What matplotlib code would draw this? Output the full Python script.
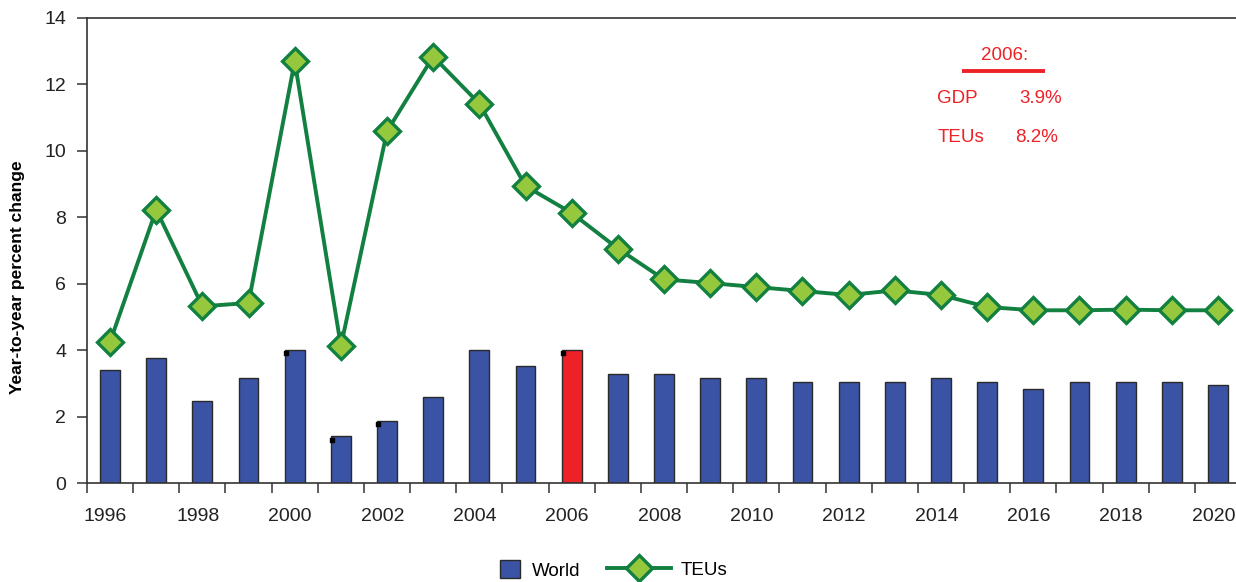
import matplotlib.pyplot as plt
import numpy as np

plt.rcParams['font.family'] = ['Liberation Sans', 'DejaVu Sans']

years = list(range(1996, 2021))
# world GDP growth, % per year
world = [3.40, 3.75, 2.47, 3.17, 4.00, 1.41, 1.87, 2.59, 4.00, 3.53, 4.00,
         3.28, 3.28, 3.17, 3.17, 3.05, 3.05, 3.05, 3.17, 3.05, 2.82, 3.05,
         3.05, 3.05, 2.94]
# container traffic growth (TEUs), % per year
teus = [4.25, 8.23, 5.32, 5.42, 12.70, 4.12, 10.59, 12.84, 11.42, 8.94, 8.13,
        7.06, 6.13, 6.02, 5.90, 5.78, 5.66, 5.80, 5.66, 5.30, 5.20, 5.20,
        5.22, 5.20, 5.20]
# small black markers sitting on a few bars
dot_years = [2000, 2001, 2002, 2006]
dot_vals = [3.9, 1.3, 1.78, 3.9]

highlight = 2006
blue = '#3A53A4'
red = '#EC2227'
dkgreen = '#128040'
ltgreen = '#95C83D'

fig = plt.figure(figsize=(12.36, 5.82), dpi=100)
ax = fig.add_axes([87 / 1236, 1 - 483 / 582, (1241 - 87) / 1236, (483 - 18) / 582])

x = np.arange(len(years))
colors = [red if y == highlight else blue for y in years]
bars = ax.bar(x, world, width=0.43, color=colors, edgecolor='#2a2a2a', linewidth=1.0,
              zorder=2, label='World')
line, = ax.plot(x, teus, color=dkgreen, lw=2.8, marker='D', markersize=13,
                markerfacecolor=ltgreen, markeredgecolor=dkgreen, markeredgewidth=2.4,
                zorder=3, label='TEUs')
dx = [years.index(y) - 0.19 for y in dot_years]
ax.scatter(dx, dot_vals, s=6, marker='s', color='black', zorder=4)

ax.set_xlim(-0.5, len(years) - 0.5)
ax.set_ylim(0, 14)
ax.set_yticks(range(0, 15, 2))
ax.set_xticks(np.arange(-0.5, len(years), 1))
ax.set_xticklabels([])
# year labels every other year, under the bars
for i, y in enumerate(years):
    if y % 2 == 0:
        ax.text(i - 0.1, -1.02, str(y), ha='center', va='center', fontsize=14,
                color='#222222')
ax.tick_params(axis='both', direction='out', length=7, width=1.1, colors='#333333',
               labelsize=14, labelcolor='#222222')
ax.tick_params(axis='y', pad=8)
for s in ['left', 'bottom', 'top']:
    ax.spines[s].set_color('#333333')
    ax.spines[s].set_linewidth(1.2)
ax.spines['right'].set_visible(False)
ax.set_ylabel('Year-to-year percent change', fontsize=12.5, fontweight='bold')
ax.yaxis.set_label_coords(-0.0537, 0.443)

# 2006 callout
ax.text(0.795, 0.920, '2006:', transform=ax.transAxes, ha='center', va='center',
        fontsize=13.5, color=red)
ax.plot([0.758, 0.830], [0.886, 0.886], transform=ax.transAxes,
        color=red, lw=2.8, solid_capstyle='butt')
ax.text(0.737, 0.826, 'GDP', transform=ax.transAxes, ha='left', va='center',
        fontsize=13.5, color=red)
ax.text(0.808, 0.826, '3.9%', transform=ax.transAxes, ha='left', va='center',
        fontsize=13.5, color=red)
ax.text(0.737, 0.742, 'TEUs', transform=ax.transAxes, ha='left', va='center',
        fontsize=13.5, color=red)
ax.text(0.804, 0.742, '8.2%', transform=ax.transAxes, ha='left', va='center',
        fontsize=13.5, color=red)

# legend: small square for the bars, long line for the TEUs
fig.legend([bars], ['World'], loc='center', bbox_to_anchor=(540 / 1236, 1 - 570 / 582),
           frameon=False, fontsize=13.5, handlelength=1.1, handleheight=1.1,
           handletextpad=0.6, borderpad=0)
fig.legend([line], ['TEUs'], loc='center', bbox_to_anchor=(667 / 1236, 1 - 570 / 582),
           frameon=False, fontsize=13.5, handlelength=3.4, handletextpad=0.5,
           borderpad=0)

fig.savefig('out.png', dpi=100)
